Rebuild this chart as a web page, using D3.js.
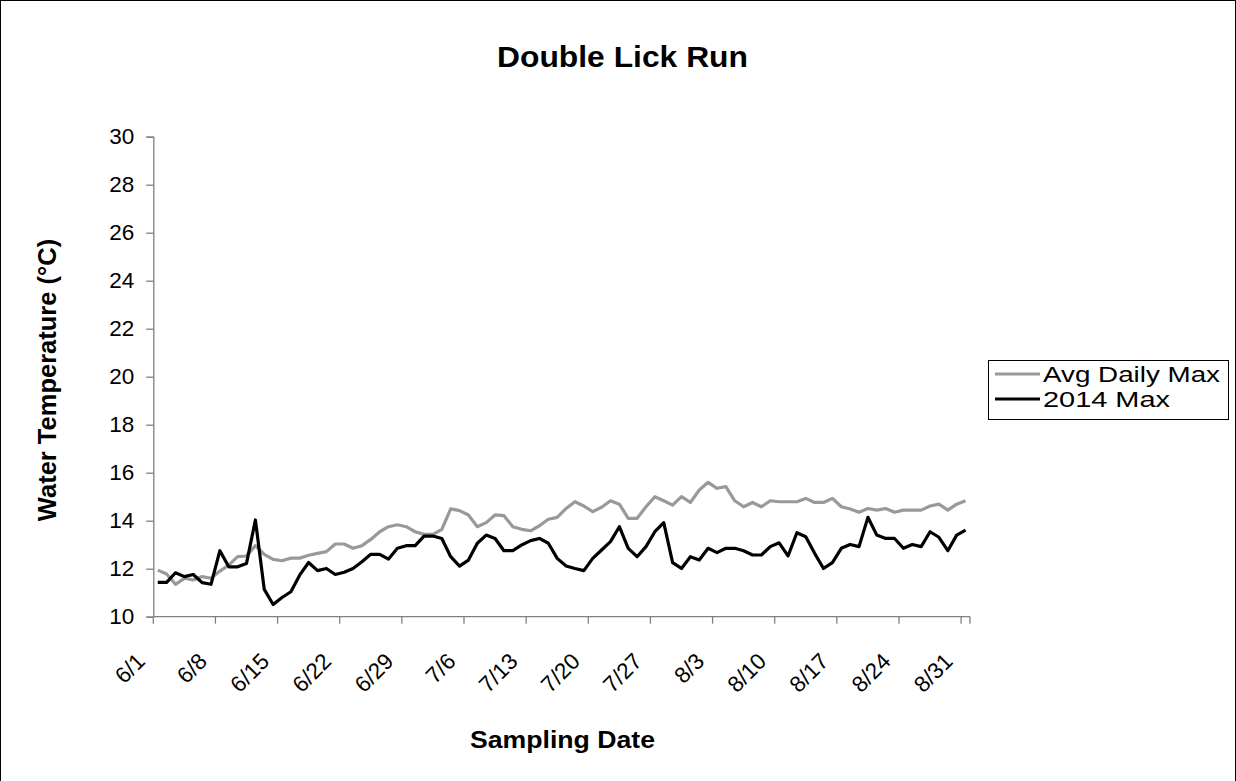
<!DOCTYPE html>
<html>
<head>
<meta charset="utf-8">
<script src="https://cdn.jsdelivr.net/npm/d3@7"></script>
<style>
  html, body { margin: 0; padding: 0; background: #fff; }
  svg { display: block; font-family: "Liberation Sans", Arial, sans-serif; }
</style>
</head>
<body>
<svg id="chart" width="1236" height="781"></svg>
<script>
// Daily sampling dates, 6/1 through 8/31
const startDate = new Date(2014, 5, 1);
const dates = d3.range(92).map(i => d3.timeDay.offset(startDate, i));
const dateLabels = dates.map(d => (d.getMonth() + 1) + "/" + d.getDate());

// Long-term average of the daily maximum water temperature (°C)
const avgDailyMax = [
  11.94, 11.78, 11.35, 11.60, 11.53, 11.67, 11.60, 11.90, 12.15, 12.50,
  12.53, 12.96, 12.60, 12.39, 12.33, 12.44, 12.44, 12.56, 12.64, 12.71,
  13.03, 13.03, 12.85, 12.96, 13.22, 13.54, 13.75, 13.83, 13.75, 13.54,
  13.43, 13.43, 13.64, 14.49, 14.42, 14.24, 13.75, 13.92, 14.24, 14.21,
  13.75, 13.64, 13.58, 13.79, 14.06, 14.14, 14.51, 14.79, 14.61, 14.38,
  14.56, 14.83, 14.69, 14.10, 14.10, 14.58, 15.00, 14.83, 14.65, 15.00,
  14.76, 15.28, 15.60, 15.35, 15.42, 14.83, 14.58, 14.76, 14.58, 14.83,
  14.79, 14.79, 14.79, 14.93, 14.76, 14.76, 14.93, 14.58, 14.49, 14.35,
  14.51, 14.44, 14.51, 14.35, 14.44, 14.44, 14.44, 14.61, 14.69, 14.44,
  14.69, 14.83
];

// 2014 daily maximum water temperature (°C)
const max2014 = [
  11.43, 11.43, 11.83, 11.67, 11.76, 11.42, 11.35, 12.75, 12.08, 12.08,
  12.22, 14.03, 11.14, 10.51, 10.80, 11.04, 11.74, 12.26, 11.92, 12.01,
  11.76, 11.85, 12.01, 12.29, 12.60, 12.60, 12.40, 12.85, 12.96, 12.96,
  13.36, 13.36, 13.26, 12.50, 12.11, 12.36, 13.06, 13.40, 13.26, 12.75,
  12.75, 12.99, 13.17, 13.26, 13.06, 12.43, 12.11, 12.01, 11.92, 12.43,
  12.78, 13.13, 13.75, 12.85, 12.50, 12.92, 13.54, 13.92, 12.25, 12.01,
  12.50, 12.36, 12.85, 12.67, 12.85, 12.85, 12.75, 12.57, 12.57, 12.92,
  13.08, 12.53, 13.50, 13.33, 12.64, 12.01, 12.25, 12.85, 13.01, 12.92,
  14.14, 13.40, 13.26, 13.26, 12.85, 13.01, 12.92, 13.54, 13.31, 12.75,
  13.40, 13.61
];

const yTicks = [10, 12, 14, 16, 18, 20, 22, 24, 26, 28, 30];
const seriesNames = ["Avg Daily Max", "2014 Max"];
const seriesColors = ["#999999", "#000000"];

const svg = d3.select("#chart");
const W = 1236, H = 781;

// Outer chart frame
svg.append("rect")
  .attr("x", 0.5).attr("y", 0.5)
  .attr("width", W - 1).attr("height", H + 10)
  .attr("fill", "#fff").attr("stroke", "#000").attr("stroke-width", 1);

const plot = { left: 153.3, right: 970, top: 136.7, bottom: 616.7 };

const x = d3.scaleBand()
  .domain(dateLabels)
  .range([plot.left, plot.right])
  .paddingInner(0).paddingOuter(0);

const y = d3.scaleLinear()
  .domain([10, 30])
  .range([plot.bottom, plot.top]);

const axisColor = "#808080";
const tickFont = 22.5;

// Y axis
const yAxis = svg.append("g")
  .attr("transform", `translate(${plot.left},0)`)
  .call(d3.axisLeft(y).tickValues(yTicks).tickSize(7).tickPadding(12).tickFormat(d3.format("d")));
yAxis.select(".domain").attr("stroke", axisColor).attr("stroke-width", 1.3);
yAxis.selectAll(".tick line").attr("stroke", axisColor).attr("stroke-width", 1.3);
yAxis.selectAll(".tick text")
  .attr("fill", "#000").attr("font-size", tickFont)
  .attr("font-family", "'Liberation Sans', Arial, sans-serif");

// X axis: tick marks at weekly category boundaries
const weekly = dateLabels.filter((d, i) => i % 7 === 0);
const xAxisG = svg.append("g");
xAxisG.append("line")
  .attr("x1", plot.left).attr("x2", plot.right)
  .attr("y1", plot.bottom).attr("y2", plot.bottom)
  .attr("stroke", axisColor).attr("stroke-width", 1.3);
const tickSel = xAxisG.selectAll("g.xt")
  .data(weekly.concat([null]))
  .join("g")
  .attr("class", "xt")
  .attr("transform", d => {
    const px = d === null ? plot.right : x(d);
    return `translate(${px},${plot.bottom})`;
  });
tickSel.append("line")
  .attr("y1", 0).attr("y2", 7)
  .attr("stroke", axisColor).attr("stroke-width", 1.3);
tickSel.filter(d => d !== null)
  .append("text")
  .attr("transform", "translate(-7,46) rotate(-45)")
  .attr("text-anchor", "end")
  .attr("font-size", tickFont)
  .attr("fill", "#000")
  .text(d => d);

// Series lines
const line = d3.line()
  .x((d, i) => x(dateLabels[i]) + x.bandwidth() / 2)
  .y(d => y(d));

[avgDailyMax, max2014].forEach((vals, k) => {
  svg.append("path")
    .datum(vals)
    .attr("fill", "none")
    .attr("stroke", seriesColors[k])
    .attr("stroke-width", 3.2)
    .attr("stroke-linejoin", "round")
    .attr("d", line);
});

// Title and axis titles
svg.append("text")
  .attr("x", 497).attr("y", 67)
  .attr("font-size", 29).attr("font-weight", "bold")
  .attr("textLength", 251).attr("lengthAdjust", "spacingAndGlyphs")
  .text("Double Lick Run");

svg.append("text")
  .attr("transform", "translate(56,380) rotate(-90)")
  .attr("text-anchor", "middle")
  .attr("font-size", 25.5).attr("font-weight", "bold")
  .text("Water Temperature (°C)");

svg.append("text")
  .attr("x", 470).attr("y", 748)
  .attr("font-size", 23.5).attr("font-weight", "bold")
  .attr("textLength", 185).attr("lengthAdjust", "spacingAndGlyphs")
  .text("Sampling Date");

// Legend
const legendWidths = [177, 127];
const legend = svg.append("g").attr("transform", "translate(988,360)");
legend.append("rect")
  .attr("x", 0.5).attr("y", 0.5)
  .attr("width", 240).attr("height", 59)
  .attr("fill", "#fff").attr("stroke", "#000").attr("stroke-width", 1);
seriesNames.forEach((name, k) => {
  const ly = 14 + k * 25;
  legend.append("line")
    .attr("x1", 7).attr("x2", 52)
    .attr("y1", ly).attr("y2", ly)
    .attr("stroke", seriesColors[k]).attr("stroke-width", 3.2);
  legend.append("text")
    .attr("x", 55).attr("y", ly + 8)
    .attr("font-size", 22.5)
    .attr("textLength", legendWidths[k]).attr("lengthAdjust", "spacingAndGlyphs")
    .text(name);
});
</script>
</body>
</html>
